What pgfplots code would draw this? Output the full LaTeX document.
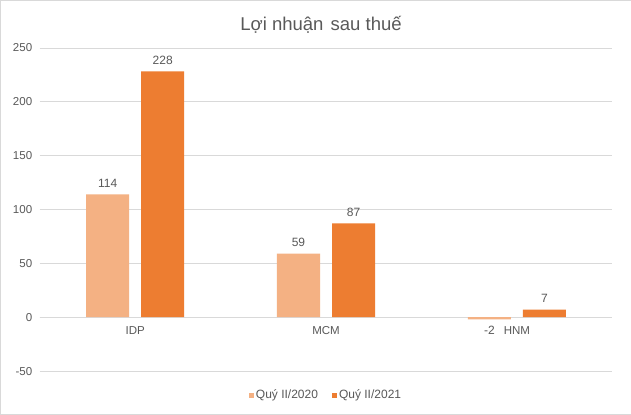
\documentclass[border=0pt]{standalone}
\usepackage{fontspec}
\setmainfont{Liberation Sans}
\usepackage{pgfplots}
\pgfplotsset{compat=1.18}
\definecolor{c1}{HTML}{F4B183}
\definecolor{c2}{HTML}{ED7D31}
\definecolor{txt}{HTML}{595959}
\definecolor{gridc}{HTML}{D9D9D9}
\begin{document}
\begin{tikzpicture}[x=1pt,y=1pt]
\draw[gridc, fill=white] (0.5,0.5) rectangle (630.5,414.5);
\begin{axis}[
 at={(40pt,44pt)}, anchor=south west,
 scale only axis, width=572pt, height=323pt,
 ybar=12pt, bar width=43pt,
 xmin=-0.5, xmax=2.5, ymin=-50, ymax=250,
 ytick={-50,0,50,100,150,200,250},
 xtick={0,1,2}, xticklabels={IDP,MCM,HNM},
 axis x line=middle, axis y line=left,
 x axis line style={-, draw=gridc},
 y axis line style={draw=none},
 major tick length=0pt,
 ymajorgrids, grid style={draw=gridc},
 /pgf/number format/assume math mode=true,
 tick label style={font=\fontsize{11.5}{13}\selectfont, text=txt},
 yticklabel style={xshift=-4pt},
 xticklabel style={yshift=-6pt},
 nodes near coords,
 nodes near coords align={vertical},
 every node near coord/.append style={font=\fontsize{12}{14}\selectfont, text=txt, inner ysep=6.5pt},
 title={Lợi nhuận\hspace{2pt} sau thuế},
 title style={font=\fontsize{18.5}{22}\selectfont, text=txt, at={(0.5,1)}, anchor=center, yshift=17pt, xshift=-5pt},
 legend columns=2,
 legend style={at={(0.5,0)}, anchor=center, yshift=-24pt, draw=none, fill=none,
   font=\fontsize{12}{14}\selectfont, text=txt,
   /tikz/every even column/.append style={column sep=12pt}},
 legend image code/.code={\fill[#1] (0pt,-2.5pt) rectangle (5pt,2.5pt);},
]
\addplot[fill=c1, draw=none] coordinates {(0,114) (1,59) (2,-2)};
\addplot[fill=c2, draw=none] coordinates {(0,228) (1,87) (2,7)};
\legend{Quý II/2020, Quý II/2021}
\end{axis}
\end{tikzpicture}
\end{document}
